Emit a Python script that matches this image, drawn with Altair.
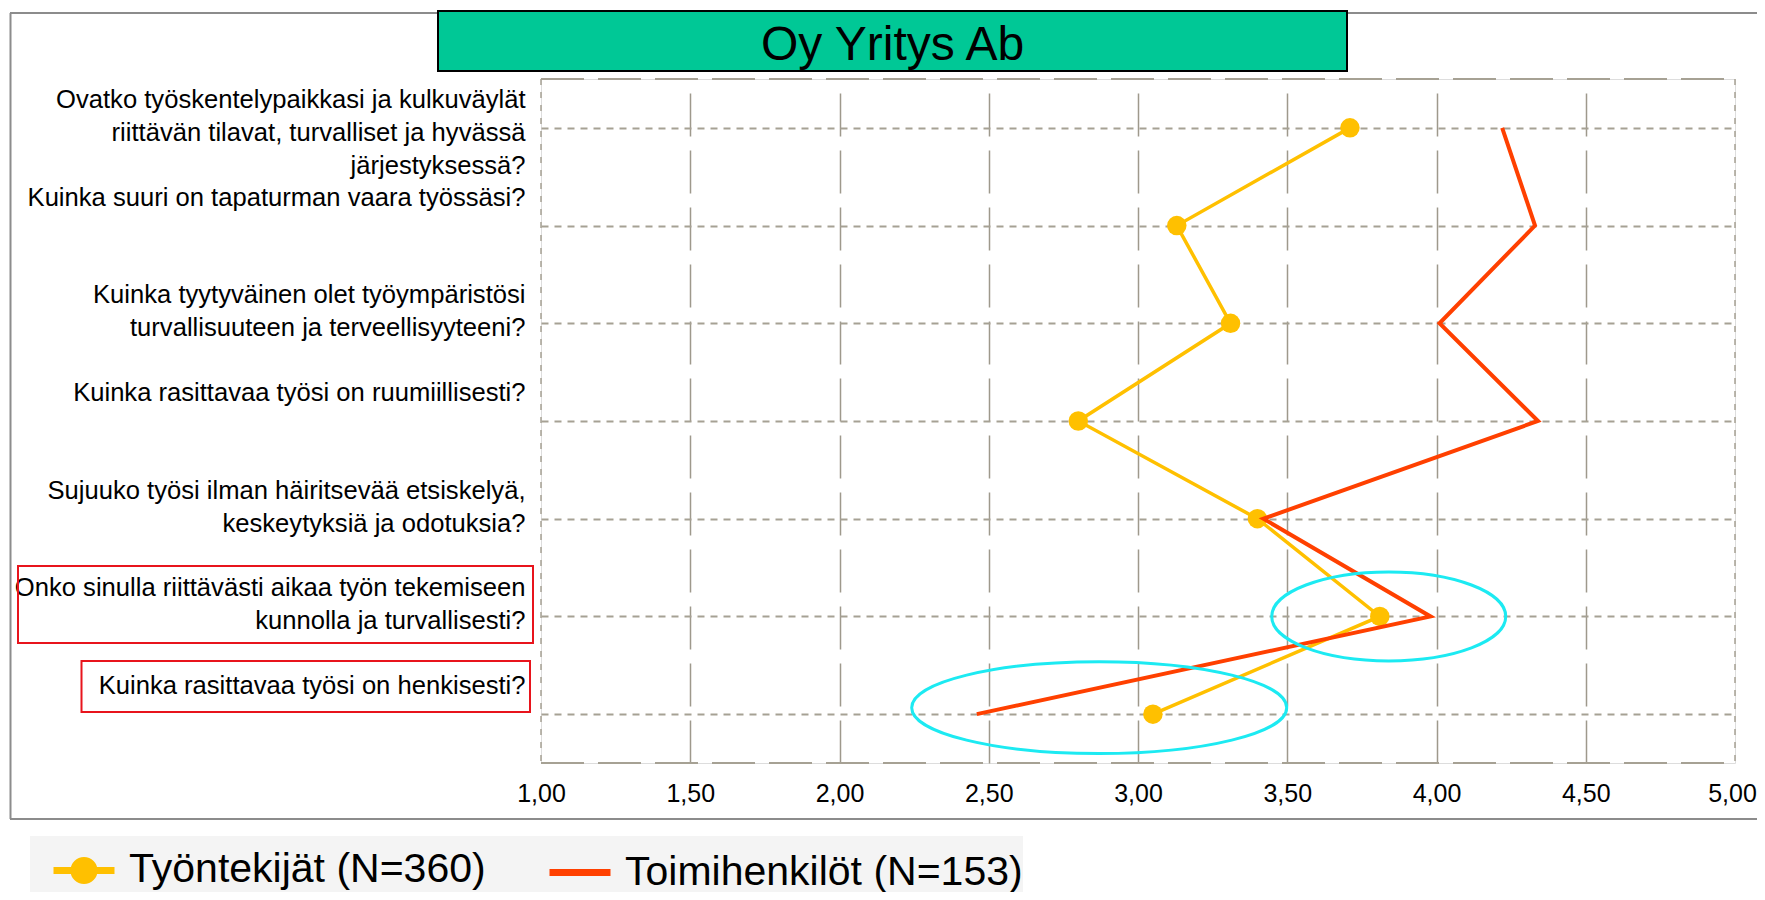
import altair as alt
import pandas as pd

# ---------------- data ----------------
questions = [
    "Ovatko työskentelypaikkasi ja kulkuväylät|riittävän tilavat, turvalliset ja hyvässä|järjestyksessä?",
    "Kuinka suuri on tapaturman vaara työssäsi?",
    "Kuinka tyytyväinen olet työympäristösi|turvallisuuteen ja terveellisyyteeni?",
    "Kuinka rasittavaa työsi on ruumiillisesti?",
    "Sujuuko työsi ilman häiritsevää etsiskelyä,|keskeytyksiä ja odotuksia?",
    "Onko sinulla riittävästi aikaa työn tekemiseen|kunnolla ja turvallisesti?",
    "Kuinka rasittavaa työsi on henkisesti?",
]
series_names = ["Työntekijät (N=360)", "Toimihenkilöt (N=153)"]
tyontekijat = [3.71, 3.13, 3.31, 2.80, 3.40, 3.81, 3.05]
toimihenkilot = [4.22, 4.33, 4.01, 4.34, 3.42, 3.98, 2.46]
x_ticks = [1.0, 1.5, 2.0, 2.5, 3.0, 3.5, 4.0, 4.5, 5.0]
title_text = ["Oy Yritys Ab"]
highlight_questions = [questions[5], questions[6]]
ellipse_centres = [3.84, 2.87]

rows = []
for s, vals in zip(series_names, [tyontekijat, toimihenkilot]):
    for i, (q, v) in enumerate(zip(questions, vals)):
        rows.append({"question": q, "idx": i, "series": s, "value": v})
df = pd.DataFrame(rows)

# ---------------- style ----------------
W, H = 1194, 684
FONT = "Liberation Sans"
YELLOW = "#FFC000"
ORANGE = "#FF4000"
GRID = "#A6A194"
VGRID = "#9E998C"
CYAN = "#1CEAF2"
RED = "#E8141C"
GREEN = "#00C896"


def ellipse_path(b):
    k = 0.5523
    kb = round(k * b, 4)
    return (f"M-1,0C-1,{-kb},{-k},{-b},0,{-b}C{k},{-b},1,{-kb},1,0"
            f"C1,{kb},{k},{b},0,{b}C{-k},{b},-1,{kb},-1,0Z")


def circle_path(r):
    c = round(r * 0.5523, 4)
    return (f"M{-r},0C{-r},{-c},{-c},{-r},0,{-r}C{c},{-r},{r},{-c},{r},0"
            f"C{r},{c},{c},{r},0,{r}C{-c},{r},{-r},{c},{-r},0Z")


LEG_PATH = "M-1,0L1,0" + circle_path(0.33)

x_enc = alt.X(
    "value:Q",
    scale=alt.Scale(domain=[1, 5], nice=False, zero=False),
    axis=alt.Axis(
        values=x_ticks, title=None, domain=False, ticks=False,
        labelExpr="replace(format(datum.value, '.2f'), '.', ',')",
        labelFont=FONT, labelFontSize=25, labelColor="black", labelPadding=18,
        labelFlush=False, labelOverlap=False,
        labelOffset={"condition": {"test": "datum.value === 5", "value": -3}, "value": 0},
        grid=True, gridColor=VGRID, gridDash=[43, 14], gridWidth=1.5,
        gridOpacity={"condition": {"test": "datum.value === 1 || datum.value === 5", "value": 0}, "value": 1},
    ),
)
y_enc = alt.Y(
    "question:N",
    sort=questions,
    scale=alt.Scale(type="point", padding=0.5),
    axis=alt.Axis(
        title=None, domain=False, ticks=False,
        labelExpr="split(datum.label, '|')",
        labelFont=FONT, labelFontSize=25.6, labelColor="black", labelPadding=16,
        labelLimit=700, labelLineHeight=33, labelOffset=-28.5, labelOverlap=False,
        grid=True, gridColor=GRID, gridDash=[7, 6], gridWidth=2,
    ),
)

legend = alt.Legend(
    title=None, orient="none", legendX=-511, legendY=757, direction="horizontal",
    fillColor="#F4F4F4", padding=0, symbolSize=3721,
    symbolType=alt.ExprRef(expr=f"datum.value === '{series_names[0]}' ? '{LEG_PATH}' : 'stroke'"),
    symbolFillColor=alt.ExprRef(expr=f"datum.value === '{series_names[0]}' ? '{YELLOW}' : 'transparent'"),
    symbolStrokeWidth=7, symbolOffset=20, symbolOpacity=1,
    labelFont=FONT, labelFontSize=41, labelColor="black", labelOffset=11,
    labelLimit=1000, columnPadding=40,
)
color = alt.Color("series:N", scale=alt.Scale(domain=series_names, range=[YELLOW, ORANGE]), legend=legend)

one = pd.DataFrame({"k": [0]})

# outer frame (top, left, bottom)
frame_top = alt.Chart(one).mark_rule(color="#8C8C8C", strokeWidth=2).encode(
    x=alt.value(-531), x2=alt.value(1240), y=alt.value(-66))
frame_left = alt.Chart(one).mark_rule(color="#8C8C8C", strokeWidth=2).encode(
    x=alt.value(-530.5), y=alt.value(-66), y2=alt.value(740))
frame_bottom = alt.Chart(one).mark_rule(color="#8C8C8C", strokeWidth=2).encode(
    x=alt.value(-531), x2=alt.value(1240), y=alt.value(740))

# title box
title_box = alt.Chart(one).mark_rect(fill=GREEN, stroke="black", strokeWidth=2).encode(
    x=alt.value(-103), x2=alt.value(806), y=alt.value(-68), y2=alt.value(-8))
title_txt = alt.Chart(pd.DataFrame({"t": title_text})).mark_text(
    font=FONT, fontSize=48, color="black", align="center", baseline="alphabetic"
).encode(x=alt.value(351.5), y=alt.value(-19), text="t:N")

# red highlight boxes around two labels
box_a = alt.Chart(one).mark_rect(fillOpacity=0, stroke=RED, strokeWidth=2).encode(
    x=alt.value(-523), x2=alt.value(-8), y=alt.value(487), y2=alt.value(564))
box_b = alt.Chart(one).mark_rect(fillOpacity=0, stroke=RED, strokeWidth=2).encode(
    x=alt.value(-459.5), x2=alt.value(-11), y=alt.value(582), y2=alt.value(633))

# plot-area border
b_top = alt.Chart(one).mark_rule(color=GRID, strokeWidth=2, strokeDash=[43, 14]).encode(
    x=alt.value(0), x2=alt.value("width"), y=alt.value(0))
b_bottom = alt.Chart(one).mark_rule(color=GRID, strokeWidth=2, strokeDash=[43, 14]).encode(
    x=alt.value(0), x2=alt.value("width"), y=alt.value("height"))
b_left = alt.Chart(one).mark_rule(color=GRID, strokeWidth=1.5, strokeDash=[6, 7]).encode(
    x=alt.value(0), y=alt.value(0), y2=alt.value("height"))
b_right = alt.Chart(one).mark_rule(color=GRID, strokeWidth=1.5, strokeDash=[6, 7]).encode(
    x=alt.value("width"), y=alt.value(0), y2=alt.value("height"))

base = alt.Chart(df)
y_line = base.transform_filter(alt.datum.series == series_names[0]).mark_line(strokeWidth=3.5).encode(
    x=x_enc, y=y_enc, color=color, order=alt.Order("idx:Q"))
y_pts = base.transform_filter(alt.datum.series == series_names[0]).mark_point(
    filled=True, size=380, opacity=1, color=YELLOW).encode(x=x_enc, y=y_enc)
o_line = base.transform_filter(alt.datum.series == series_names[1]).mark_line(strokeWidth=4).encode(
    x=x_enc, y=y_enc, color=color, order=alt.Order("idx:Q"))

ell1 = alt.Chart(pd.DataFrame({"question": highlight_questions[:1], "value": ellipse_centres[:1]})).mark_point(
    shape=ellipse_path(0.38), size=234 ** 2, filled=False, stroke=CYAN, strokeWidth=3, opacity=1
).encode(x=x_enc, y=y_enc)
ell2 = alt.Chart(pd.DataFrame({"question": highlight_questions[1:], "value": ellipse_centres[1:]})).mark_point(
    shape=ellipse_path(0.245), size=375 ** 2, filled=False, stroke=CYAN, strokeWidth=3, opacity=1,
    yOffset=-6.5
).encode(x=x_enc, y=y_enc)

chart = alt.layer(
    frame_top, frame_left, frame_bottom, title_box, title_txt, box_a, box_b,
    b_top, b_bottom, b_left, b_right, y_line, y_pts, o_line, ell1, ell2,
).properties(
    width=W, height=H,
    autosize=alt.AutoSizeParams(type="none"),
    padding={"left": 533, "top": 71, "right": 22, "bottom": 129},
).configure_view(stroke=None).configure(background="white")

chart.save("out.html", embed_options={"renderer": "svg", "actions": False})
